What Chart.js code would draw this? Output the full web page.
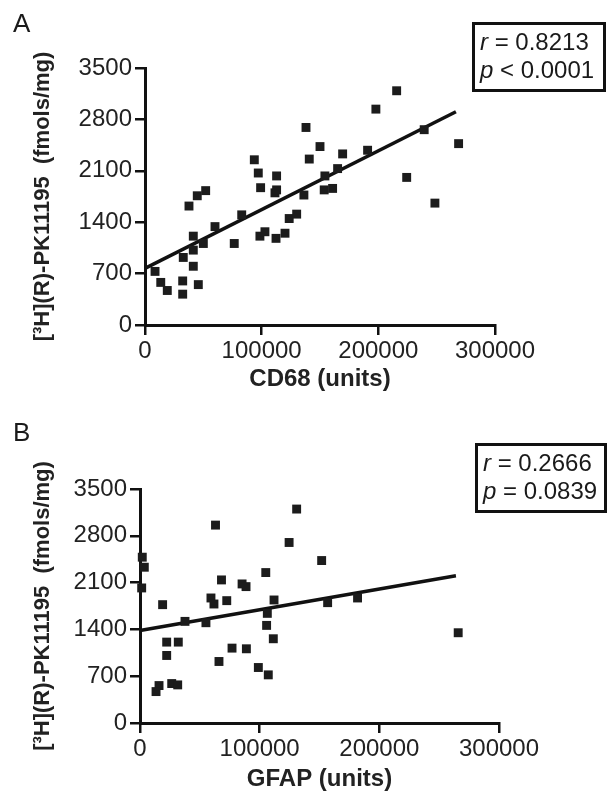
<!DOCTYPE html>
<html>
<head>
<meta charset="utf-8">
<script src="https://cdn.jsdelivr.net/npm/chart.js@4"></script>
<style>
  body { margin: 0; background: #fff; }
  #page { position: relative; width: 614px; height: 800px; font-family: "Liberation Sans", Arial, sans-serif; color: #1a1a1a; }
  canvas { position: absolute; left: 0; }
  .panel { position: absolute; left: 13px; font-size: 26px; line-height: 1; }
  .stats { position: absolute; box-sizing: border-box; border: 3px solid #111; font-size: 24px; line-height: 28px; padding: 3px 0 0 5px; white-space: nowrap; }
</style>
</head>
<body>
<div id="page">
  <canvas id="chartA" width="614" height="400" style="top:0"></canvas>
  <canvas id="chartB" width="614" height="400" style="top:400px"></canvas>
  <div class="panel" style="top:10px">A</div>
  <div class="panel" style="top:419px">B</div>
  <div class="stats" style="left:472px; top:22px; width:134px; height:70px"><i>r</i> = 0.8213<br><i>p</i> &lt; 0.0001</div>
  <div class="stats" style="left:475px; top:443px; width:132px; height:70px"><i>r</i> = 0.2666<br><i>p</i> = 0.0839</div>
</div>
<script>
// panel A: CD68 vs binding
const cd68X = [8600, 13500, 19100, 32300, 32300, 45700, 32800, 41400, 41400, 41400, 50000, 60000,
  37700, 44800, 52000, 76500, 82900, 93700, 97100, 99100, 98500, 102800, 112800, 111400, 112800,
  112300, 120000, 123600, 130000, 136200, 138000, 140800, 150000, 169400, 165100, 154200, 153600,
  160800, 190800, 197900, 215700, 239300, 268800, 224300, 248500];
const cd68Y = [730, 580, 470, 600, 420, 550, 920, 800, 1020, 1210, 1110, 1340,
  1620, 1760, 1830, 1110, 1500, 2250, 2070, 1870, 1210, 1270, 2030, 1800, 1840,
  1180, 1250, 1450, 1510, 1770, 2690, 2260, 2430, 2330, 2130, 2030, 1840,
  1860, 2380, 2940, 3190, 2660, 2470, 2010, 1660];
const cd68FitX = [0, 266500];
const cd68FitY = [772, 2905];

// panel B: GFAP vs binding
const gfapX = [1900, 3600, 1400, 18900, 22300, 32000, 22300, 15900, 13400, 26500, 31500, 37600,
  55100, 59300, 61800, 63100, 68100, 72500, 66000, 76900, 85300, 88600, 88900, 98900, 107200,
  105100, 106400, 105800, 111400, 112000, 124600, 130900, 151800, 156800, 181800, 265900];
const gfapY = [2480, 2330, 2020, 1770, 1210, 1210, 1010, 560, 470, 590, 570, 1520,
  1500, 1870, 1780, 2960, 2140, 1830, 920, 1120, 2080, 2040, 1110, 830, 720,
  2250, 1640, 1460, 1260, 1840, 2700, 3200, 2430, 1800, 1870, 1350];
const gfapFitX = [0, 264000];
const gfapFitY = [1385, 2203];

const yTicks = [0, 700, 1400, 2100, 2800, 3500];
const xTicks = [0, 100000, 200000, 300000];
const yLabel = "[³H](R)-PK11195  (fmols/mg)";

const font = "'Liberation Sans', Arial, sans-serif";
const ink = "#111";

function makeChart(id, xs, ys, fitX, fitY, xTitle, area) {
  const pts = xs.map((x, i) => ({ x: x, y: ys[i] }));
  const fit = fitX.map((x, i) => ({ x: x, y: fitY[i] }));
  return new Chart(document.getElementById(id), {
    type: "scatter",
    data: {
      datasets: [
        {
          data: pts,
          pointStyle: "rect",
          pointRadius: 6.3,
          backgroundColor: "#1c1c1c",
          borderWidth: 0,
          clip: false,
        },
        {
          data: fit,
          showLine: true,
          pointRadius: 0,
          borderColor: ink,
          borderWidth: 3.5,
          clip: false,
        },
      ],
    },
    options: {
      responsive: false,
      animation: false,
      layout: { padding: { left: 0, top: area.top, right: 614 - area.right, bottom: 0 } },
      plugins: { legend: { display: false }, tooltip: { enabled: false } },
      scales: {
        x: {
          min: xTicks[0],
          max: xTicks[xTicks.length - 1],
          afterFit: (s) => { s.height = 400 - area.bottom; },
          afterBuildTicks: (s) => { s.ticks = xTicks.map((v) => ({ value: v })); },
          border: { color: ink, width: 3 },
          grid: { drawOnChartArea: false, tickLength: 10, color: ink, lineWidth: 2.5 },
          ticks: { color: "#222", padding: 2, font: { family: font, size: 24 }, callback: (v) => String(v) },
          title: { display: true, text: xTitle, color: "#222", padding: { top: 0, bottom: 6 }, font: { family: font, size: 24, weight: "bold" } },
        },
        y: {
          min: yTicks[0],
          max: yTicks[yTicks.length - 1],
          afterFit: (s) => { s.width = area.left; },
          afterBuildTicks: (s) => { s.ticks = yTicks.map((v) => ({ value: v })); },
          border: { color: ink, width: 3 },
          grid: { drawOnChartArea: false, tickLength: 10, color: ink, lineWidth: 2.5 },
          ticks: { color: "#222", padding: 3, font: { family: font, size: 24 }, callback: (v) => String(v) },
          title: { display: true, text: yLabel, color: "#222", padding: { top: 30, bottom: 0 }, font: { family: font, size: 22, weight: "bold" } },
        },
      },
    },
  });
}

makeChart("chartA", cd68X, cd68Y, cd68FitX, cd68FitY, "CD68 (units)", { left: 145, right: 495, top: 68, bottom: 325 });
makeChart("chartB", gfapX, gfapY, gfapFitX, gfapFitY, "GFAP (units)", { left: 140, right: 499, top: 89, bottom: 323 });
</script>
</body>
</html>
